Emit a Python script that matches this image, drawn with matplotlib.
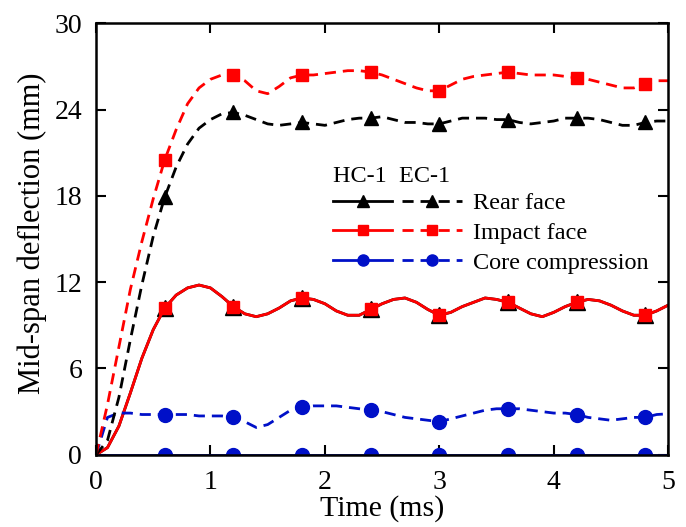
import matplotlib
matplotlib.use("Agg")
import matplotlib.pyplot as plt
from matplotlib.legend_handler import HandlerTuple
import numpy as np

plt.rcParams['font.family'] = ['Liberation Serif', 'DejaVu Serif']

# time axis (ms), values read every 0.1 ms
t = np.round(np.arange(0, 5.01, 0.1), 1)

# EC-1 (dashed)
ec_impact = [0, 3.5, 7.5, 11.5, 14.8, 17.8, 20.5, 22.6, 24.4, 25.5, 26.1, 26.4, 26.4, 26.0, 25.3,
             25.1, 25.6, 26.2, 26.4, 26.4, 26.5, 26.6, 26.7, 26.7, 26.6, 26.4, 26.1, 25.8, 25.5,
             25.3, 25.3, 25.7, 26.1, 26.3, 26.4, 26.5, 26.6, 26.5, 26.4, 26.4, 26.4, 26.3, 26.2,
             26.1, 25.9, 25.7, 25.5, 25.5, 25.8, 26.0, 26.0]
ec_rear = [0, 1.0, 4.0, 8.0, 11.8, 15.2, 17.9, 20.0, 21.6, 22.7, 23.3, 23.7, 23.8, 23.6, 23.3,
           23.0, 22.9, 23.0, 23.1, 23.0, 22.9, 23.1, 23.3, 23.4, 23.4, 23.5, 23.3, 23.1, 23.1,
           23.0, 23.0, 23.2, 23.4, 23.4, 23.4, 23.3, 23.3, 23.1, 23.0, 23.1, 23.2, 23.4, 23.4,
           23.4, 23.3, 23.1, 22.9, 22.9, 23.1, 23.2, 23.2]
ec_core = [0, 2.6, 2.9, 2.9, 2.8, 2.8, 2.8, 2.8, 2.8, 2.7, 2.7, 2.7, 2.6, 2.3, 1.9,
           2.1, 2.6, 3.1, 3.3, 3.4, 3.4, 3.4, 3.3, 3.2, 3.1, 3.0, 2.8, 2.6, 2.5,
           2.4, 2.3, 2.5, 2.7, 2.9, 3.1, 3.2, 3.2, 3.2, 3.1, 3.0, 2.9, 2.9, 2.8,
           2.6, 2.5, 2.4, 2.5, 2.6, 2.6, 2.8, 2.85]

# HC-1 (solid); rear face lies under the impact face curve
hc_impact = [0, 0.5, 2.0, 4.3, 6.7, 8.7, 10.2, 11.1, 11.6, 11.8, 11.6, 11.0, 10.3, 9.8, 9.6,
             9.8, 10.2, 10.7, 10.9, 10.8, 10.5, 10.0, 9.7, 9.7, 10.1, 10.5, 10.8, 10.9, 10.6,
             10.1, 9.7, 9.9, 10.3, 10.6, 10.9, 10.8, 10.6, 10.2, 9.8, 9.6, 9.9, 10.3, 10.6,
             10.8, 10.7, 10.4, 10.0, 9.7, 9.7, 10.0, 10.4]
hc_rear = list(hc_impact)
hc_core = [0] * len(t)

mark = list(range(6, 49, 6))  # markers at 0.6, 1.2 ... 4.8 ms

fig = plt.figure(figsize=(6.86, 5.27), dpi=100)
ax = fig.add_axes([0.14, 0.137, 0.834, 0.819])

lw = 2.0
ms = 10
dash = (0, (4, 2.5))
red = '#ff0000'
blue = '#0010c8'

l_hc_core, = ax.plot(t, hc_core, '-', color=blue, lw=lw, marker='o', ms=ms, markevery=mark)
l_hc_rear, = ax.plot(t, hc_rear, '-', color='black', lw=lw, marker='^', ms=ms + 1, markevery=mark)
l_hc_imp, = ax.plot(t, hc_impact, '-', color=red, lw=lw, marker='s', ms=ms - 1, markevery=mark)
l_ec_core, = ax.plot(t, ec_core, color=blue, ls=dash, lw=lw, marker='o', ms=ms, markevery=mark)
l_ec_rear, = ax.plot(t, ec_rear, color='black', ls=dash, lw=lw, marker='^', ms=ms, markevery=mark)
l_ec_imp, = ax.plot(t, ec_impact, color=red, ls=dash, lw=lw, marker='s', ms=ms - 1, markevery=mark)

ax.set_xlim(0, 5)
ax.set_ylim(0, 30)
ax.set_xticks([0, 1, 2, 3, 4, 5])
ax.set_yticks([0, 6, 12, 18, 24, 30])
ax.tick_params(direction='in', length=7, width=1.5, labelsize=20, top=True, right=True)
ax.tick_params(axis='x', pad=11)
ax.tick_params(axis='y', pad=10)
for s in ax.spines.values():
    s.set_linewidth(1.8)
ax.set_xlabel('Time (ms)', fontsize=21.5, labelpad=0)
ax.set_ylabel('Mid-span deflection (mm)', fontsize=22)
ax.yaxis.set_label_coords(-0.085, 0.514)

leg = ax.legend([(l_hc_rear, l_ec_rear), (l_hc_imp, l_ec_imp), (l_hc_core, l_ec_core)],
                ['Rear face', 'Impact face', 'Core compression'],
                handler_map={tuple: HandlerTuple(ndivide=None, pad=0.4)},
                handlelength=5.3, handletextpad=0.45, labelspacing=0.32,
                fontsize=17.5, frameon=False, loc='upper left', markerscale=0.8,
                borderpad=0, borderaxespad=0,
                bbox_to_anchor=(0.414, 0.67), title='HC-1  EC-1', title_fontsize=17.5,
                alignment='left')
leg._legend_box.sep = 4

fig.savefig('out.png', dpi=100)
